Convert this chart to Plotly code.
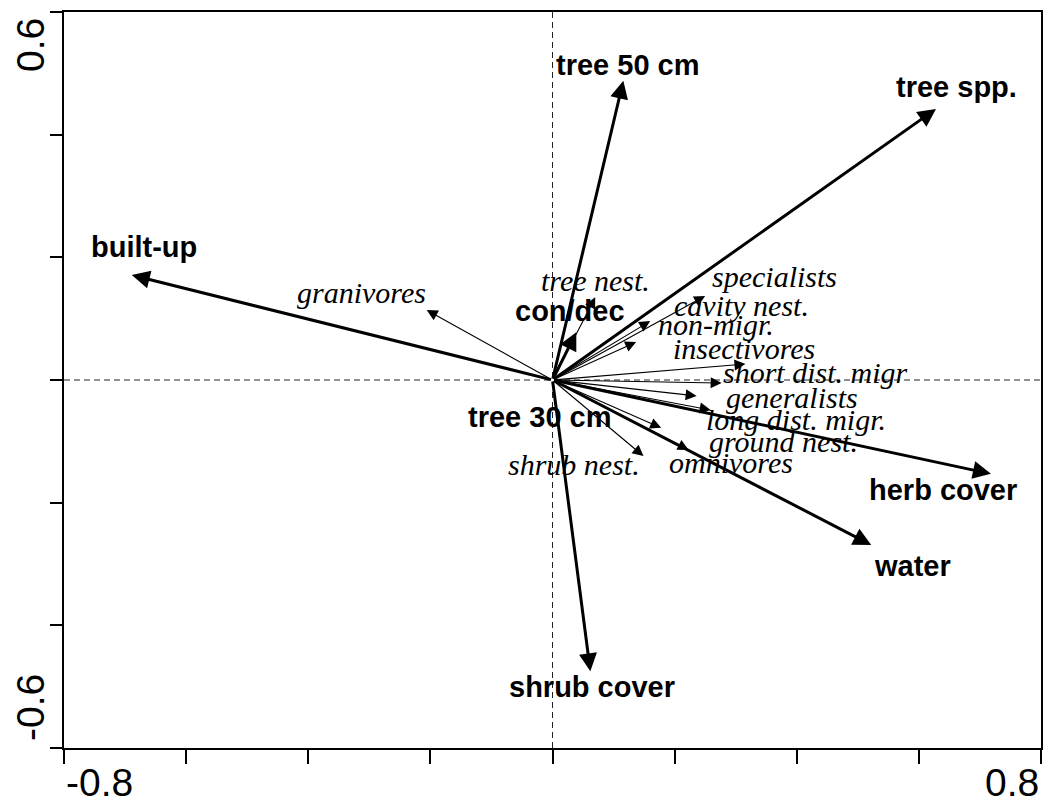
import plotly.graph_objects as go

# ---------------- data ----------------
# Environmental variables (bold arrows)
env_names = ["tree 50 cm", "tree spp.", "built-up", "con/dec", "tree 30 cm",
             "herb cover", "water", "shrub cover"]
env_x = [0.116, 0.628, -0.689, 0.039, -0.006, 0.718, 0.522, 0.062]
env_y = [0.488, 0.442, 0.171, 0.078, -0.008, -0.153, -0.269, -0.475]
env_label_x = [0.123, 0.661, -0.669, 0.029, -0.020, 0.640, 0.589, 0.065]
env_label_y = [0.514, 0.478, 0.217, 0.113, -0.060, -0.179, -0.303, -0.501]

# Species groups (thin arrows)
sp_names = ["tree nest.", "specialists", "cavity nest.", "non-migr.", "insectivores",
            "short dist. migr", "generalists", "long dist. migr.", "ground nest.",
            "omnivores", "shrub nest.", "granivores"]
sp_x = [0.070, 0.250, 0.160, 0.137, 0.316, 0.277, 0.236, 0.259, 0.178, 0.223, 0.149, -0.206]
sp_y = [0.135, 0.137, 0.096, 0.062, 0.026, -0.005, -0.026, -0.049, -0.078, -0.114, -0.124, 0.114]
sp_label_x = [0.070, 0.363, 0.310, 0.268, 0.314, 0.430, 0.392, 0.398, 0.379, 0.292, 0.036, -0.312]
sp_label_y = [0.163, 0.168, 0.122, 0.090, 0.052, 0.013, -0.029, -0.065, -0.100, -0.134, -0.137, 0.142]

x_range = [-0.8, 0.8]
y_range = [-0.6, 0.6]
x_ticks = [-0.8, -0.6, -0.4, -0.2, 0.0, 0.2, 0.4, 0.6, 0.8]
y_ticks = [-0.6, -0.4, -0.2, 0.0, 0.2, 0.4, 0.6]
x_tick_labels = {-0.8: "-0.8", 0.8: "0.8"}
y_tick_labels = {-0.6: "-0.6", 0.6: "0.6"}

# ---------------- figure ----------------
fig = go.Figure()
fig.add_trace(go.Scatter(x=[0], y=[0], mode="markers",
                         marker=dict(size=1, color="rgba(0,0,0,0)"),
                         hoverinfo="skip", showlegend=False))

annotations = []
# species arrows (thin)
for x, y in zip(sp_x, sp_y):
    annotations.append(dict(x=x, y=y, ax=0, ay=0, xref="x", yref="y",
                            axref="x", ayref="y", text="", showarrow=True,
                            arrowhead=2, arrowwidth=1.1, arrowsize=2.0,
                            arrowcolor="black", standoff=0, startstandoff=0))
# environmental arrows (thick)
for x, y in zip(env_x, env_y):
    annotations.append(dict(x=x, y=y, ax=0, ay=0, xref="x", yref="y",
                            axref="x", ayref="y", text="", showarrow=True,
                            arrowhead=2, arrowwidth=3, arrowsize=1.2,
                            arrowcolor="black", standoff=0, startstandoff=0))
# species labels
for name, x, y in zip(sp_names, sp_label_x, sp_label_y):
    annotations.append(dict(x=x, y=y, xref="x", yref="y", text=name,
                            showarrow=False, xanchor="center", yanchor="middle",
                            font=dict(family="Liberation Serif", size=30,
                                      style="italic", color="black")))
# environmental labels
for name, x, y in zip(env_names, env_label_x, env_label_y):
    annotations.append(dict(x=x, y=y, xref="x", yref="y", text=name,
                            showarrow=False, xanchor="center", yanchor="middle",
                            font=dict(family="Liberation Sans", size=29,
                                      weight="bold", color="black")))
# axis end labels
for v, t in x_tick_labels.items():
    annotations.append(dict(x=v, y=0, xref="x", yref="paper", text=t,
                            showarrow=False,
                            xanchor="left" if v < 0 else "right",
                            yanchor="bottom", yshift=-58,
                            font=dict(family="Liberation Sans", size=39, color="black")))
for v, t in y_tick_labels.items():
    annotations.append(dict(x=0, y=v, xref="paper", yref="y", text=t,
                            showarrow=False, textangle=-90,
                            xanchor="center", yanchor="middle",
                            xshift=-34, yshift=-33 if v > 0 else 40,
                            font=dict(family="Liberation Sans", size=39, color="black")))

shapes = [
    dict(type="line", xref="x", yref="paper", x0=0, x1=0, y0=0, y1=1,
         line=dict(color="#222", width=1, dash="6px,4px"), layer="below"),
    dict(type="line", xref="paper", yref="y", x0=0, x1=1, y0=0, y1=0,
         line=dict(color="#222", width=1, dash="6px,4px"), layer="below"),
]

fig.update_layout(
    width=1046, height=807,
    margin=dict(l=64, r=3, t=12, b=59),
    paper_bgcolor="white", plot_bgcolor="white",
    showlegend=False,
    annotations=annotations,
    shapes=shapes,
    xaxis=dict(range=x_range, tickvals=x_ticks, showticklabels=False,
               ticks="outside", ticklen=14, tickwidth=2, tickcolor="black",
               showline=True, linecolor="black", linewidth=2, mirror=True,
               showgrid=False, zeroline=False, fixedrange=True),
    yaxis=dict(range=y_range, tickvals=y_ticks, showticklabels=False,
               ticks="outside", ticklen=12, tickwidth=2, tickcolor="black",
               showline=True, linecolor="black", linewidth=2, mirror=True,
               showgrid=False, zeroline=False, fixedrange=True),
)

fig.write_html("out.html")
